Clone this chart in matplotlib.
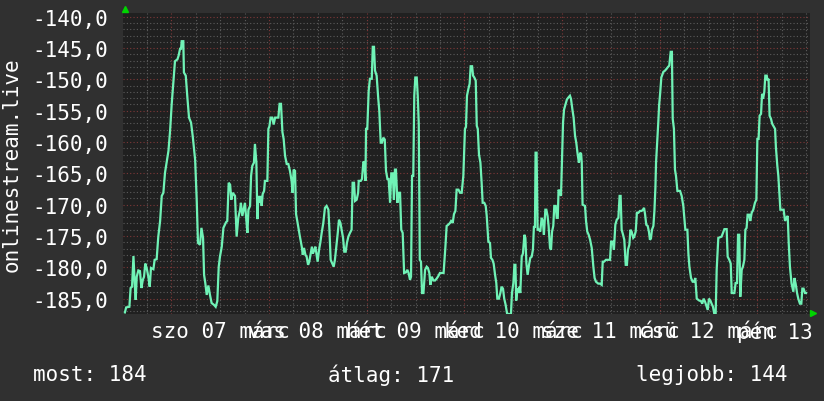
import matplotlib
matplotlib.use("Agg")
import matplotlib.pyplot as plt
import numpy as np

# time axis: hours since 2020-03-07 00:00 (szo 07 márc)
hours = [
    -11.4, -11.1, -10.3, -10.0, -9.65, -9.3, -9.0, -8.75, -8.5, -8.1, -7.7, -7.35, -7.0, -6.7,
    -6.4, -6.05, -5.65, -5.3, -5.0, -4.4, -4.1, -3.6, -3.2, -2.75, -2.35, -1.95, -1.55, -1.15,
    -0.7, -0.3, 0.1, 0.5, 0.9, 1.5, 1.8, 2.15, 2.4, 2.55, 2.95, 3.1, 3.55, 3.95, 4.35, 4.85,
    5.25, 5.85, 6.25, 6.55, 7.05, 7.4, 7.8, 8.05, 8.35, 8.7, 9.1, 9.5, 9.9, 10.5, 10.9, 11.3,
    11.65, 11.95, 12.4, 12.8, 13.45, 13.75, 14.1, 14.45, 14.75, 15.1, 15.65,
    16.05, 16.45, 16.9, 17.1, 17.45, 17.7, 18.1, 18.35, 18.7, 18.95, 19.35, 19.6, 19.9, 20.3,
    20.55, 20.9, 21.15, 21.4, 21.7, 21.95, 22.2, 22.45, 22.8, 23.0, 23.6, 23.85, 24.1, 24.4,
    24.8, 25.15, 25.5, 26.3, 26.6, 26.95, 27.3, 27.6, 27.95, 28.35, 28.75, 29.15, 29.55, 29.8,
    30.05, 30.4, 30.65, 30.95, 31.3, 31.6, 32.05, 32.3, 32.6, 32.95, 33.25, 33.6, 33.9, 34.25,
    34.55, 34.8, 35.15, 35.4, 35.65, 35.95, 36.3, 36.6, 36.95, 37.35, 37.75, 38.15, 38.6, 38.85,
    39.15, 39.55, 39.9, 40.2, 40.55, 40.9, 41.2, 41.55, 41.85, 42.2, 42.5, 42.85, 43.15, 43.5,
    43.9, 44.3, 44.55, 44.9,
    45.15, 45.55, 45.9, 46.05, 46.55, 46.85, 47.2, 47.45, 47.7, 47.85, 48.15, 48.5, 48.8, 49.25,
    49.5, 49.8, 50.05, 50.45, 50.85, 51.1, 51.45, 51.75, 52.1, 52.45, 52.75, 53.1, 53.4, 53.75,
    54.05, 54.4, 54.7, 54.95, 55.2, 55.55, 55.85, 56.2, 56.5, 56.85, 57.2, 57.65, 58.0, 58.3,
    58.65, 58.9, 59.15, 59.45, 59.7, 59.95, 60.3, 60.55, 60.8, 61.05, 61.35, 61.6, 61.95, 62.35,
    62.75, 63.05, 63.4, 63.65, 64.0, 64.4, 64.8, 65.2, 65.6, 66.0, 66.9, 67.35, 67.65, 68.05,
    68.5, 68.75, 69.15, 69.45, 69.8, 70.1, 70.55, 70.95, 71.35, 71.75, 72.15,
    72.4, 72.65, 73.0, 73.3, 73.55, 73.9, 74.15, 74.45, 74.8, 75.05, 75.3, 75.6, 75.95, 76.25,
    76.5, 76.9, 77.25, 77.5, 77.9, 78.3, 78.55, 78.9, 79.2, 79.55, 79.85, 80.1, 80.5, 80.85,
    81.15, 81.5, 81.8, 82.15, 82.5, 83.45, 83.7, 84.05, 84.3, 84.55, 84.75, 85.0, 85.25, 85.5,
    85.75, 86.1, 86.4, 86.75, 87.0, 87.25, 87.55, 87.9, 88.2, 88.55, 88.85, 89.1, 89.35, 89.5,
    89.75, 90.0, 90.35, 90.65, 91.0, 91.3, 91.55, 91.9, 92.15, 92.45, 92.7, 93.05, 93.3, 93.55,
    93.85, 94.1, 94.45, 94.7, 94.95, 95.15, 95.5, 95.75, 96.0, 96.25, 96.5, 96.9, 97.2, 97.55,
    97.95, 98.2, 98.55, 98.85, 99.2, 99.5, 99.85, 100.15, 100.45, 100.7, 100.85,
    101.05, 101.65, 101.9, 102.2, 102.55, 102.9, 103.3, 103.7, 104.0, 104.35, 104.9, 105.35,
    105.75, 106.0, 106.3, 106.8, 107.8, 108.05, 108.45, 108.75, 109.1, 109.45, 109.85, 110.15,
    110.4, 110.65, 111.0, 111.3, 111.65, 111.95, 112.2, 112.55, 112.8, 113.1, 113.5, 113.75,
    114.1, 114.4, 114.75, 115.15, 115.55, 115.9, 116.15, 116.4, 116.7, 117.05, 117.35, 117.6,
    117.85, 118.1, 118.45, 118.7, 118.95, 119.1, 119.4, 119.65, 119.85, 120.1, 120.4, 120.9,
    121.3, 121.7, 122.05, 122.35, 122.7, 123.0, 123.2, 123.5, 123.75, 124.0, 124.35, 125.0,
    125.4, 125.8, 126.3, 126.8, 127.05, 127.3, 127.7, 128.1, 128.45, 128.75, 129.1,
    129.7, 130.15, 130.45, 130.8, 131.15, 131.55, 131.8, 132.1, 132.45, 132.75, 133.1, 133.4,
    133.75, 134.0, 134.4, 135.2, 135.65, 135.9, 136.45, 136.7, 137.1, 137.45, 137.7, 138.35,
    138.65, 139.0, 139.25, 139.55, 139.8, 140.15, 140.45, 140.8, 141.05, 141.35, 141.6, 142.0,
    142.25, 142.6, 143.0, 143.4, 143.75, 144.0, 144.3, 144.55, 144.9, 145.15, 145.4, 145.7,
    145.95, 146.3, 146.5, 146.75, 147.0, 147.35, 147.65, 148.1, 148.35, 148.55, 148.9, 149.15,
    149.45, 149.65, 150.45, 150.8, 151.1, 151.45, 151.7, 152.0, 152.4, 152.85, 153.1, 153.4,
    153.75, 154.05, 154.45, 154.8, 155.05, 155.35, 155.7, 155.95,
]

values = [
    -187.2, -186.4, -186.3, -183.3, -183.1, -178.2, -182.5, -185.2, -181.5, -180.5, -180.6, -183.3, -182.0, -181.5,
    -179.4, -180.1, -181.5, -183.1, -180.1, -180.3, -178.8, -178.7, -175.1, -172.6, -168.6, -168.1, -164.9, -163.3,
    -161.4, -158.2, -153.9, -150.5, -147.1, -146.8, -146.2, -145.1, -145.1, -143.9, -143.9, -148.9, -149.4, -152.9, -156.1, -156.9,
    -159.0, -162.8, -169.4, -176.1, -176.4, -173.7, -175.3, -181.2, -182.5, -184.4, -182.9, -184.4, -185.7, -186.0, -186.3, -185.4,
    -179.9, -178.3, -176.7, -173.7, -172.8, -172.6, -166.5, -166.8, -169.2, -168.1, -168.6,
    -175.1, -172.1, -170.8, -169.7, -171.8, -171.0, -169.7, -171.8, -174.5, -170.8, -170.2, -165.4, -163.8, -163.3,
    -160.3, -163.3, -172.3, -168.6, -169.7, -168.6, -170.2, -168.3, -167.8, -166.2, -166.2, -157.9, -157.5, -156.1,
    -156.1, -157.2, -156.1, -156.1, -153.9, -153.9, -158.4, -159.5, -162.2, -163.5, -163.5, -164.6, -166.2, -168.1,
    -164.4, -164.6, -171.5, -172.6, -174.0, -175.1, -176.7, -178.0, -176.9, -178.0, -178.3, -179.6, -179.1, -177.8,
    -176.7, -177.8, -177.2, -176.7, -177.8, -179.1, -177.2, -176.1, -174.5, -172.9, -170.5, -170.2, -170.8, -174.0,
    -178.8, -179.4, -179.9, -178.8, -176.7, -174.5, -172.4, -172.9, -174.0, -175.3, -177.5, -177.5, -176.1, -175.1,
    -174.5, -174.0, -166.5, -166.5,
    -169.4, -169.2, -168.1, -166.2, -166.2, -165.9, -163.1, -163.3, -166.2, -157.9, -157.9, -151.8, -149.9, -149.9,
    -144.8, -144.8, -148.6, -149.4, -153.1, -155.0, -160.1, -160.1, -159.3, -159.6, -164.6, -165.9, -165.9, -169.7,
    -165.0, -165.0, -169.2, -164.4, -164.4, -169.7, -168.1, -168.1, -174.0, -174.5, -180.9, -180.8, -180.4, -180.9,
    -182.0, -181.5, -165.4, -165.4, -152.6, -149.7, -149.7, -152.6, -157.1, -178.8, -179.1, -184.1, -184.1, -180.4,
    -179.9, -180.1, -180.9, -182.8, -181.5, -182.1, -182.1, -181.8, -181.4, -180.9, -180.9, -176.7, -173.4, -173.2,
    -172.9, -172.6, -172.9, -171.5, -171.0, -167.6, -167.6, -168.1, -168.1, -165.4, -157.9,
    -157.6, -152.6, -151.5, -150.7, -147.9, -147.9, -149.4, -149.7, -150.2, -157.4, -157.9, -162.0, -163.3, -166.5,
    -169.7, -169.7, -170.2, -171.8, -175.9, -176.1, -178.5, -178.8, -179.4, -181.2, -182.5, -185.0, -185.0, -184.1,
    -183.1, -183.4, -185.0, -186.0, -187.4, -187.5, -184.1, -182.5, -179.6, -179.6, -185.3, -183.4, -184.1, -183.1,
    -184.1, -178.3, -177.8, -174.8, -175.3, -179.4, -181.2, -179.6, -178.5, -178.3, -177.2, -173.4, -173.7, -161.7,
    -161.7, -174.0, -174.0, -174.3, -172.1, -172.6, -174.8, -170.8, -170.8, -171.8, -173.4, -176.9, -177.2, -174.3,
    -173.4, -170.2, -170.2, -172.1, -172.1, -167.6, -168.1, -168.6, -162.8, -156.9, -154.8, -153.9, -153.2, -152.9,
    -152.6, -153.1, -154.8, -156.1, -159.0, -160.1, -162.0, -163.3, -161.7, -161.9, -163.3,
    -170.0, -170.2, -172.6, -174.3, -174.8, -175.6, -176.9, -179.9, -181.7, -182.3, -182.6, -182.6,
    -182.8, -179.1, -179.1, -178.8, -178.8, -175.9, -175.9, -177.2, -173.2, -172.4, -172.1, -168.6,
    -168.6, -174.0, -174.8, -175.6, -179.6, -179.6, -177.2, -176.4, -174.0, -174.3, -175.3, -175.1,
    -174.3, -171.3, -171.3, -171.0, -171.0, -170.8, -170.5, -171.5, -173.2, -173.4, -174.3, -175.6,
    -175.4, -174.0, -173.4, -171.0, -167.2, -163.3, -159.8, -156.9, -154.2, -152.3, -149.7, -148.8,
    -148.6, -148.3, -148.0, -147.8, -145.6, -145.6, -156.3, -157.9, -164.4, -165.4, -167.8, -167.8,
    -168.6, -170.2, -174.0, -174.0, -177.8, -179.9, -181.7, -182.3, -182.3, -181.7, -185.0,
    -185.3, -185.4, -185.8, -185.0, -185.5, -186.3, -186.8, -185.0, -185.3, -185.8, -186.3, -187.4,
    -187.4, -180.4, -175.3, -175.1, -174.3, -173.9, -173.9, -178.3, -178.8, -179.4, -184.1, -184.1,
    -182.5, -182.5, -174.8, -174.8, -184.7, -180.4, -179.9, -178.8, -174.0, -173.7, -171.6, -171.6,
    -172.6, -171.3, -170.8, -169.7, -169.2, -159.5, -159.5, -155.8, -155.5, -152.3, -153.1, -152.0,
    -149.4, -149.4, -150.2, -149.9, -155.8, -156.3, -157.1, -157.6, -157.9, -160.8, -163.8, -165.4,
    -168.6, -170.8, -170.8, -172.6, -172.1, -171.8, -176.1, -179.9, -182.6, -183.9, -181.7, -182.6,
    -184.1, -185.0, -185.8, -185.8, -183.4, -183.4, -184.1, -184.1,
]

day_labels = ["szo 07 márc", "vas 08 márc", "hét 09 márc", "ked 10 márc",
              "sze 11 márc", "csü 12 márc", "pén 13 márc"]
y_ticks = [-140, -145, -150, -155, -160, -165, -170, -175, -180, -185]
series_name = "onlinestream.live"
stats = [("most: 184", 33), ("átlag: 171", 328), ("legjobb: 144", 636)]

BG = "#303030"
PLOT_BG = "#202020"
LINE = "#70f2b6"
GRID = "#5c5c5c"
MGRID = "#7e3838"
mono = "DejaVu Sans Mono"

W, H = 824, 402
fig = plt.figure(figsize=(W / 100, H / 100), dpi=100, facecolor=BG)
ax = fig.add_axes([123 / W, 1 - 315 / H, 687 / W, 301 / H])
ax.set_facecolor(PLOT_BG)
for s in ax.spines.values():
    s.set_visible(False)

x0, x1 = -11.87, 156.93
y0, y1 = -187.45, -139.4
ax.set_xlim(x0, x1)
ax.set_ylim(y0, y1)

# grid, rrdtool style
dot = (0, (1, 2))
for v in np.arange(-187, -139, 1):
    if v % 5 == 0:
        continue
    ax.axhline(v, color=GRID, lw=0.8, ls=dot, zorder=1)
for v in y_ticks:
    ax.axhline(v, color=MGRID, lw=0.8, ls=dot, zorder=1)
for h in np.arange(-6, 157, 6):
    c = MGRID if h % 24 == 0 else GRID
    ax.axvline(h, color=c, lw=0.8, ls=dot, zorder=1)

ax.plot(hours, values, color=LINE, lw=1.6, zorder=3, solid_joinstyle="miter")

ax.set_yticks(y_ticks)
ax.set_yticklabels([f"{v:.1f}".replace(".", ",") for v in y_ticks])
ax.set_xticks([12 + 24 * i for i in range(len(day_labels))])
ax.set_xticklabels(day_labels)
ax.tick_params(axis="both", length=0, colors="white", labelsize=15)
ax.tick_params(axis="y", pad=11)
ax.tick_params(axis="x", pad=5)
for lab in ax.get_xticklabels() + ax.get_yticklabels():
    lab.set_family(mono)
    lab.set_clip_on(False)

# arrows at axis ends
ax.plot([0.003], [1.013], marker="^", ms=4, color="#00d400", transform=ax.transAxes, clip_on=False)
ax.plot([1.0045], [0.004], marker=">", ms=4, color="#00d400", transform=ax.transAxes, clip_on=False)

fig.text(12 / W, 1 - 165 / H, series_name, rotation=90, ha="center", va="center",
         color="white", fontsize=15, family=mono)
for txt, px in stats:
    fig.text(px / W, 1 - 375 / H, txt, ha="left", va="center", color="white",
             fontsize=15, family=mono)

fig.savefig("out.png", dpi=100, facecolor=BG)
